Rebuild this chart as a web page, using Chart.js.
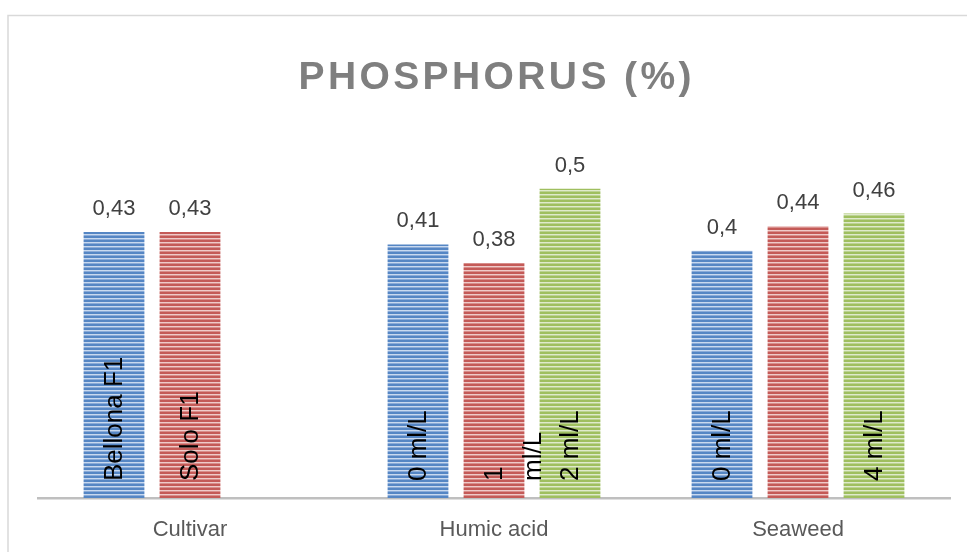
<!DOCTYPE html>
<html>
<head>
<meta charset="utf-8">
<script src="https://cdn.jsdelivr.net/npm/chart.js@4"></script>
<style>
  html, body { margin: 0; padding: 0; background: #fff; overflow: hidden; }
  canvas { display: block; }
</style>
</head>
<body>
<canvas id="myChart" width="967" height="552"></canvas>
<script>
// data
const categories = ["Cultivar", "Humic acid", "Seaweed"];
const blueValues = [0.43, 0.41, 0.40];
const redValues = [0.43, 0.38, 0.44];
const greenValues = [null, 0.50, 0.46];
// labels written inside the bars
const blueNames = ["Bellona F1", "0 ml/L", "0 ml/L"];
const redNames = ["Solo F1", "1\nml/L", ""];
const greenNames = ["", "2 ml/L", "4 ml/L"];
const titleText = "PHOSPHORUS (%)";

// striped fill like the original
function stripes(dark, mid, light) {
  const c = document.createElement("canvas");
  c.width = 8; c.height = 4;
  const g = c.getContext("2d");
  g.fillStyle = dark; g.fillRect(0, 0, 8, 2);
  g.fillStyle = light; g.fillRect(0, 2, 8, 1);
  g.fillStyle = mid; g.fillRect(0, 3, 8, 1);
  return g.createPattern(c, "repeat");
}

const blueFill = stripes("#5586c4", "#8aabd8", "#c8d9ef");
const redFill = stripes("#c45a57", "#d88e8b", "#efcac9");
const greenFill = stripes("#9fbf5f", "#bcd393", "#dfeacb");

const fmt = v => String(v).replace(".", ",");

// frame + title + bar labels
const extras = {
  id: "extras",
  beforeDraw(chart) {
    const ctx = chart.ctx;
    ctx.save();
    ctx.strokeStyle = "#d9d9d9";
    ctx.lineWidth = 1.5;
    ctx.strokeRect(8, 15.5, 1200, 800);
    ctx.restore();
  },
  afterDraw(chart) {
    const ctx = chart.ctx;
    ctx.save();
    // title with letter spacing
    ctx.font = "bold 39px 'Liberation Sans', Arial, sans-serif";
    ctx.fillStyle = "#7f7f7f";
    ctx.textBaseline = "alphabetic";
    ctx.textAlign = "left";
    const sp = 3.4;
    let total = 0;
    for (const ch of titleText) total += ctx.measureText(ch).width + sp;
    total -= sp;
    let x = 495 - total / 2;
    for (const ch of titleText) {
      ctx.fillText(ch, x, 89);
      x += ctx.measureText(ch).width + sp;
    }

    const names = [blueNames, redNames, greenNames];
    chart.data.datasets.forEach((ds, di) => {
      const meta = chart.getDatasetMeta(di);
      meta.data.forEach((bar, i) => {
        const v = ds.data[i];
        if (v === null || v === undefined) return;
        // value above bar
        ctx.font = "22px 'Liberation Sans', Arial, sans-serif";
        ctx.fillStyle = "#404040";
        ctx.textAlign = "center";
        ctx.textBaseline = "alphabetic";
        ctx.fillText(fmt(v), bar.x, bar.y - 17);
        // name inside bar, rotated
        const name = names[di][i];
        if (!name) return;
        ctx.save();
        ctx.font = "26px 'Liberation Sans', Arial, sans-serif";
        ctx.fillStyle = "#000000";
        ctx.textAlign = "left";
        ctx.textBaseline = "middle";
        name.split("\n").forEach((line, li) => {
          ctx.save();
          ctx.translate(bar.x + 1 + li * 39, bar.base - 17);
          ctx.rotate(-Math.PI / 2);
          ctx.fillText(line, 0, 0);
          ctx.restore();
        });
        ctx.restore();
      });
    });
    ctx.restore();
  }
};

new Chart(document.getElementById("myChart"), {
  type: "bar",
  data: {
    labels: categories,
    datasets: [
      { label: "A", data: blueValues, backgroundColor: blueFill },
      { label: "B", data: redValues, backgroundColor: redFill },
      { label: "C", data: greenValues, backgroundColor: greenFill }
    ]
  },
  options: {
    responsive: false,
    animation: false,
    categoryPercentage: 0.75,
    barPercentage: 0.8,
    layout: { padding: { top: 127, left: 38, right: 17, bottom: 8 } },
    plugins: {
      legend: { display: false },
      title: { display: false },
      tooltip: { enabled: false }
    },
    scales: {
      x: {
        grid: { display: false, drawTicks: false },
        border: { display: true, color: "#bfbfbf", width: 2.5 },
        ticks: {
          padding: 19,
          color: "#595959",
          font: { family: "'Liberation Sans', Arial, sans-serif", size: 22 }
        },
        afterFit(scale) { scale.height = 46; }
      },
      y: {
        display: false,
        min: 0,
        max: 0.6
      }
    }
  },
  plugins: [extras]
});
</script>
</body>
</html>
